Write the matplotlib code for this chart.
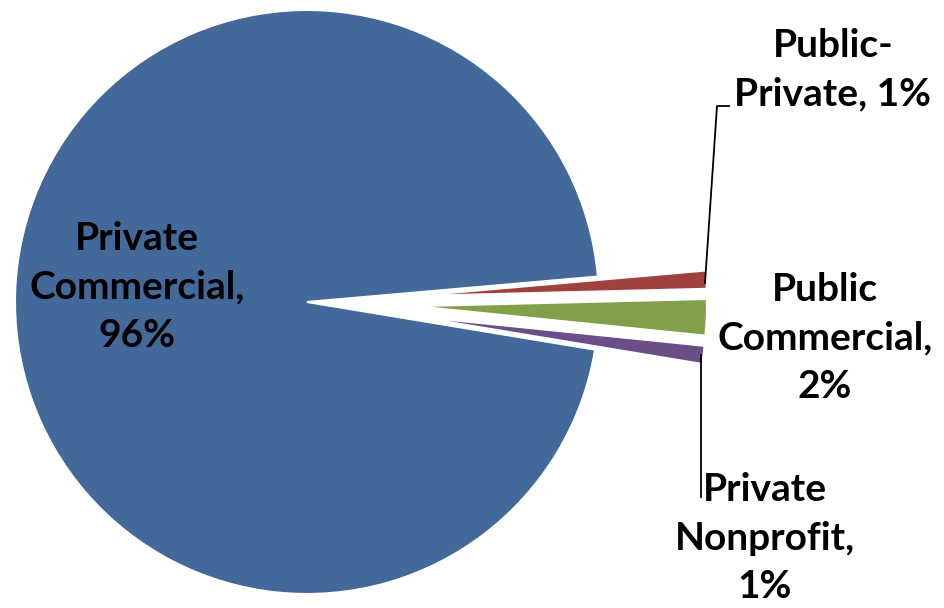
"""
Pie chart of ownership types
"""

import matplotlib.pyplot as plt

# data, counterclockwise from the start angle
labels = ["Private\nCommercial,\n96%", "Private\nNonprofit,\n1%",
          "Public\nCommercial,\n2%", "Public-\nPrivate, 1%"]
shares = [96, 1, 2, 1]
colors = ["#43699A", "#6A4E87", "#82A04A", "#9F413E"]
explode = [0, 108, 108, 108]

FONT = "Lato"
FS = 28

fig = plt.figure(figsize=(9.44, 6.08), dpi=100)
ax = fig.add_axes([0, 0, 1, 1])

ax.pie(
    shares,
    colors=colors,
    explode=explode,
    startangle=5,
    radius=292,
    center=(307, 306),
    wedgeprops={"edgecolor": "white", "linewidth": 1.5},
    frame=True,
)
ax.set_xlim(0, 944)
ax.set_ylim(0, 608)
ax.set_aspect("equal")
ax.axis("off")

# label positions (pixel coords, y up)
label_pos = [(137, 321), (765, 70), (825, 270), (833, 538)]
for lab, (x, y) in zip(labels, label_pos):
    ax.text(x, y, lab, ha="center", va="center", multialignment="center",
            fontsize=FS, fontweight="bold", family=FONT, linespacing=1.48)

# leader lines
ax.plot([705, 717, 729], [608 - 283, 608 - 106, 608 - 106], color="black", lw=1.3)
ax.plot([701, 701], [608 - 355, 608 - 497], color="black", lw=1.3)

plt.savefig("out.png", dpi=100)
plt.close()
